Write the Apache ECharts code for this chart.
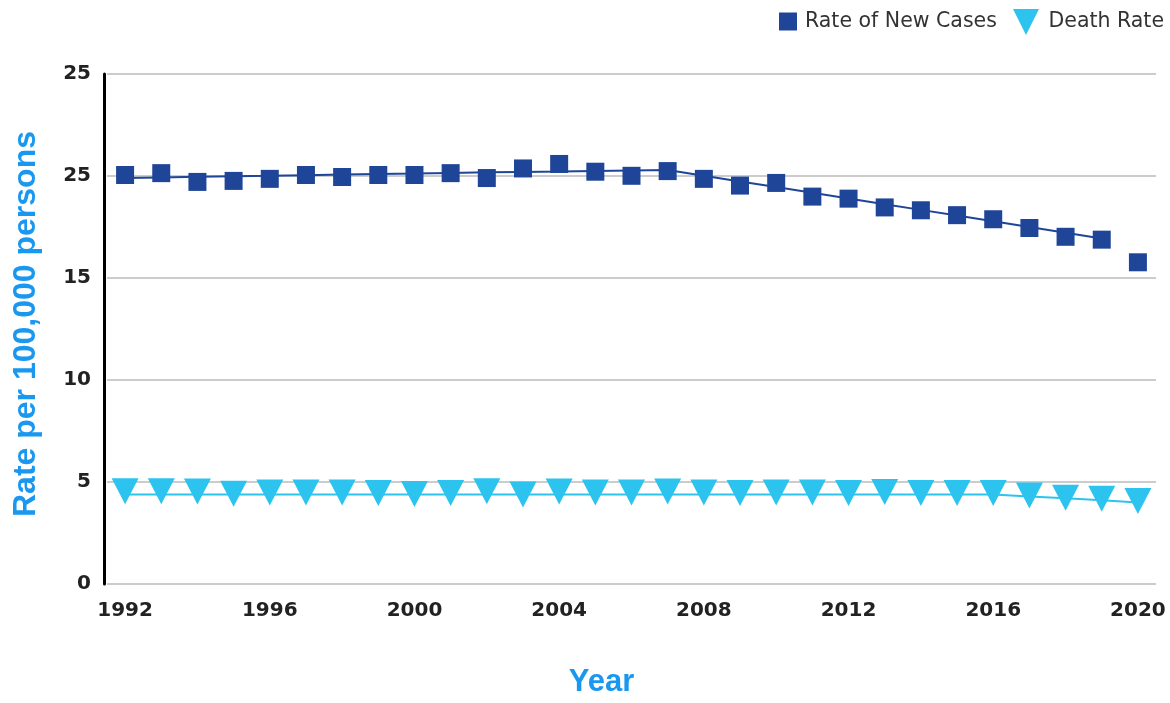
<!DOCTYPE html>
<html>
<head>
<meta charset="utf-8">
<script src="https://cdn.jsdelivr.net/npm/echarts@6/dist/echarts.min.js"></script>
<style>
html,body{margin:0;padding:0;background:#fff;}
#chart{width:1170px;height:703px;}
</style>
</head>
<body>
<div id="chart"></div>
<script>
const years = ['1992','1993','1994','1995','1996','1997','1998','1999','2000','2001','2002','2003','2004','2005','2006','2007','2008','2009','2010','2011','2012','2013','2014','2015','2016','2017','2018','2019','2020'];
const newCases = [20.05,20.14,19.71,19.76,19.86,20.05,19.95,20.05,20.05,20.14,19.90,20.37,20.59,20.21,20.01,20.24,19.86,19.53,19.66,18.99,18.89,18.46,18.32,18.08,17.88,17.45,17.02,16.88,15.77];
const newCasesTrend = [19.90,19.93,19.96,19.99,20.01,20.04,20.07,20.10,20.12,20.15,20.18,20.20,20.22,20.25,20.27,20.29,20.01,19.73,19.46,19.18,18.90,18.62,18.34,18.06,17.78,17.50,17.22,16.94,null];
const deathRate = [4.55,4.55,4.53,4.42,4.49,4.49,4.49,4.46,4.41,4.46,4.55,4.39,4.53,4.49,4.49,4.53,4.49,4.46,4.49,4.49,4.46,4.51,4.46,4.46,4.46,4.34,4.23,4.18,4.07];
const deathTrend = [4.39,4.39,4.39,4.39,4.39,4.39,4.39,4.39,4.39,4.39,4.39,4.39,4.39,4.39,4.39,4.39,4.39,4.39,4.39,4.39,4.39,4.39,4.39,4.39,4.39,4.29,4.20,4.10,4.00];
const yTickLabels = ['0','5','10','15','25','25'];

const darkBlue = '#1F4598';
const lightBlue = '#2CC3EE';
const titleBlue = '#1A98F0';
const triPath = 'path://M0,0L10,0L5,10Z';

const chart = echarts.init(document.getElementById('chart'), null, {renderer:'canvas'});
chart.setOption({
  animation:false,
  backgroundColor:'#fff',
  legend:[{
    data:[{name:'Rate of New Cases', icon:'rect'}],
    left:774, top:6, itemWidth:18, itemHeight:18,
    textStyle:{fontFamily:'DejaVu Sans', fontSize:20.5, color:'#333', padding:[0,0,0,3]}
  },{
    data:[{name:'Death Rate', icon:triPath}],
    left:1008, top:4, itemWidth:27, itemHeight:26,
    textStyle:{fontFamily:'DejaVu Sans', fontSize:20.5, color:'#333', padding:[0,0,0,4]}
  }],
  grid:{left:107, right:14, top:74, bottom:109, containLabel:false},
  xAxis:{
    type:'category', data:years, boundaryGap:true,
    name:'Year', nameLocation:'middle', nameGap:83,
    nameTextStyle:{fontFamily:'Liberation Sans', fontWeight:'bold', fontSize:31, color:titleBlue, padding:[0,60,0,0]},
    axisLine:{show:false}, axisTick:{show:false},
    axisLabel:{interval:3, margin:17, fontFamily:'DejaVu Sans', fontWeight:'bold', fontSize:20, color:'#222'},
    splitLine:{show:false}
  },
  yAxis:{
    type:'value', min:0, max:25, interval:5, offset:3,
    name:'Rate per 100,000 persons', nameLocation:'middle', nameGap:62, nameRotate:90,
    nameTextStyle:{fontFamily:'Liberation Sans', fontWeight:'bold', fontSize:32, color:titleBlue, padding:[0,0,0,10]},
    axisLine:{show:true, lineStyle:{color:'#000', width:3}},
    axisTick:{show:false},
    axisLabel:{margin:13, fontFamily:'DejaVu Sans', fontWeight:'bold', fontSize:20, color:'#222',
      formatter:function(v){ return yTickLabels[Math.round(v/5)]; }},
    splitLine:{show:true, lineStyle:{color:'#cccccc', width:2}}
  },
  series:[
    {name:'New Cases Trend', type:'line', data:newCasesTrend, showSymbol:false, symbol:'none',
      lineStyle:{color:darkBlue, width:2}, z:2, silent:true},
    {name:'Death Trend', type:'line', data:deathTrend, showSymbol:false, symbol:'none',
      lineStyle:{color:lightBlue, width:2}, z:2, silent:true},
    {name:'Rate of New Cases', type:'scatter', data:newCases, symbol:'rect', symbolSize:18,
      itemStyle:{color:darkBlue, opacity:1}, z:3},
    {name:'Death Rate', type:'scatter', data:deathRate, symbol:triPath, symbolSize:[27,26], symbolKeepAspect:false,
      itemStyle:{color:lightBlue, opacity:1}, z:3}
  ]
});
</script>
</body>
</html>
